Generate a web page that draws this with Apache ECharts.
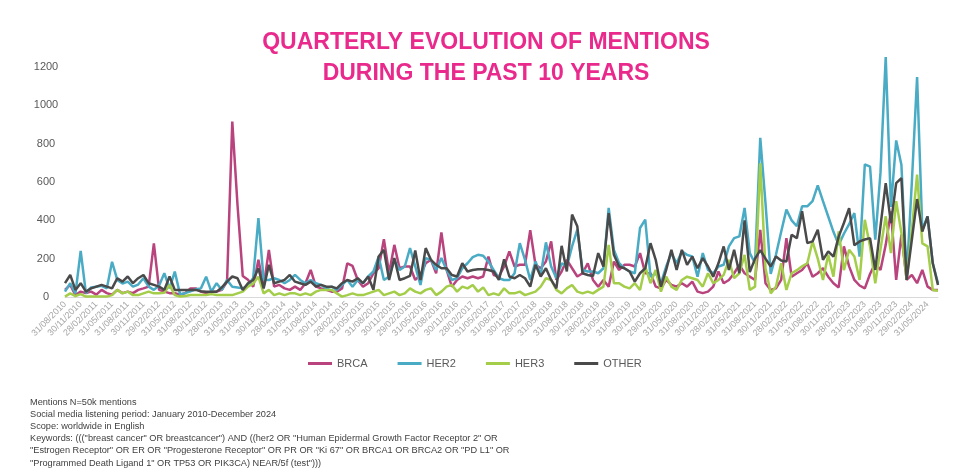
<!DOCTYPE html>
<html>
<head>
<meta charset="utf-8">
<script src="https://cdn.jsdelivr.net/npm/echarts@6/dist/echarts.min.js"></script>
<style>
html,body{margin:0;padding:0;background:#fff;}
#chart{width:960px;height:474px;}
</style>
</head>
<body>
<div id="chart"></div>
<script>
// Month-end categories: Aug 2010 .. Jul 2024 (168 months)
const startYear = 2010, startMonth = 8, monthCount = 168;
const categories = [];
for (let k = 0; k < monthCount; k++) {
  const m0 = startMonth - 1 + k;
  const y = startYear + Math.floor(m0 / 12);
  const m = (m0 % 12) + 1;
  const d = new Date(Date.UTC(y, m, 0)).getUTCDate();
  categories.push(String(d).padStart(2,'0') + '/' + String(m).padStart(2,'0') + '/' + y);
}

const seriesNames = ['BRCA', 'HER2', 'HER3', 'OTHER'];

const brca = [37,63,10,28,20,28,12,37,20,12,37,20,28,20,37,45,54,280,37,28,20,20,12,20,45,45,28,20,28,28,
37,80,915,480,110,90,54,194,54,245,54,63,45,37,54,37,72,141,54,45,37,28,28,45,176,162,89,54,72,124,
150,302,124,272,150,159,159,89,115,176,194,124,337,141,54,89,107,98,107,98,107,211,115,107,159,238,159,168,168,348,
168,150,185,290,89,133,194,150,107,124,176,89,54,89,54,185,141,168,168,159,229,124,124,54,45,89,63,54,72,54,
80,28,20,28,54,133,72,89,124,168,124,106,89,350,72,37,45,89,307,106,124,141,176,106,124,150,106,72,50,264,
160,89,60,45,120,176,141,272,447,89,325,89,115,72,141,54,37,37];

const her2 = [28,72,19,240,20,50,54,58,45,184,89,70,80,54,65,98,54,37,60,124,45,133,15,20,30,40,45,106,28,72,
37,89,54,50,45,60,100,412,90,89,98,89,72,89,115,89,72,89,72,63,45,54,37,63,89,54,89,72,107,133,
211,89,107,194,141,159,255,159,63,203,194,141,203,141,89,98,150,176,208,220,215,185,141,98,89,89,124,281,194,89,
185,115,285,159,98,176,159,264,351,141,133,133,124,150,465,246,176,150,133,124,360,404,106,124,72,159,229,176,238,220,
211,106,229,141,124,159,168,264,307,316,465,229,176,830,490,120,220,340,456,400,369,473,473,500,582,500,420,340,272,330,
380,438,211,692,680,299,650,1252,470,817,690,100,600,1148,350,420,176,72];

const her3 = [2,19,5,15,2,2,2,2,2,10,37,19,28,10,10,19,28,19,19,22,63,10,2,5,10,10,10,10,15,10,
10,10,10,19,28,54,70,106,19,37,10,19,10,19,19,10,19,10,28,37,37,37,19,2,10,19,10,10,19,28,
37,10,19,28,10,19,45,28,19,37,45,10,28,54,63,28,54,45,63,28,50,10,19,10,45,19,19,28,10,19,
28,54,98,89,37,19,45,63,28,19,28,19,37,54,272,72,72,54,45,72,37,159,72,141,28,106,54,37,89,106,
98,89,54,124,72,89,115,194,98,124,220,37,54,698,150,19,54,176,37,124,140,160,176,290,200,89,220,106,342,140,
246,211,89,403,264,72,250,421,229,500,334,89,350,639,280,264,37,33];

const other = [72,115,37,72,28,45,54,63,54,45,98,80,107,72,98,115,72,63,54,37,107,37,37,37,37,37,30,28,28,28,
50,80,107,98,37,72,89,150,45,168,72,80,89,115,80,72,63,80,54,63,54,54,45,72,89,80,98,72,107,37,
211,246,89,203,89,98,110,243,89,255,194,168,150,150,115,107,176,133,141,145,145,141,133,89,197,107,98,115,98,54,
168,107,150,89,45,267,133,430,369,124,115,110,229,159,438,220,159,150,133,80,124,150,281,194,54,141,246,141,246,168,
211,150,203,159,106,176,264,141,246,124,400,130,200,245,200,159,211,190,185,325,307,447,281,290,351,194,238,211,315,386,
464,270,290,300,307,141,370,594,385,594,620,89,300,511,341,420,176,63];

const colors = ['#b8437d', '#4aabc5', '#a4cd4a', '#4a4a4a'];
const yTicks = {min: 0, max: 1200, interval: 200};

const titleLines = ['QUARTERLY EVOLUTION OF MENTIONS', 'DURING THE PAST 10 YEARS'];
const notes = [
  'Mentions N=50k mentions',
  'Social media listening period: January 2010-December 2024',
  'Scope: worldwide in English',
  'Keywords: ((("breast cancer" OR breastcancer") AND ((her2 OR "Human Epidermal Growth Factor Receptor 2" OR',
  '"Estrogen Receptor" OR ER OR "Progesterone Receptor" OR PR OR "Ki 67" OR BRCA1 OR BRCA2 OR "PD L1" OR',
  '"Programmed Death Ligand 1" OR TP53 OR PIK3CA) NEAR/5f (test")))'
];

const allData = [brca, her2, her3, other];

const chart = echarts.init(document.getElementById('chart'), null, {renderer: 'canvas'});

const graphics = [];
titleLines.forEach((t, i) => {
  graphics.push({
    type: 'text', x: 486, y: 43 + i * 31,
    style: {text: t, fill: '#e92a8c', font: 'bold 23px "Liberation Sans", Arial, sans-serif',
            textAlign: 'center', textVerticalAlign: 'middle'}
  });
});
notes.forEach((t, i) => {
  graphics.push({
    type: 'text', x: 30, y: 402 + i * 12.2,
    style: {text: t, fill: '#404040', font: '9.2px "Liberation Sans", Arial, sans-serif',
            textAlign: 'left', textVerticalAlign: 'middle'}
  });
});

chart.setOption({
  animation: false,
  color: colors,
  grid: {left: 65, right: 22, top: 67, bottom: 177, containLabel: false},
  legend: {
    data: seriesNames,
    left: 303, top: 353,
    icon: 'rect', itemWidth: 24, itemHeight: 3, itemGap: 30,
    textStyle: {color: '#595959', fontSize: 11, fontFamily: '"Liberation Sans", Arial, sans-serif'}
  },
  xAxis: {
    type: 'category', data: categories, boundaryGap: false,
    axisLine: {lineStyle: {color: '#d9d9d9', width: 1}},
    axisTick: {show: false},
    axisLabel: {interval: 2, rotate: 45, color: '#a6a6a6', fontSize: 9, margin: 6,
                fontFamily: '"Liberation Sans", Arial, sans-serif'}
  },
  yAxis: {
    type: 'value', min: yTicks.min, max: yTicks.max, interval: yTicks.interval,
    axisLine: {show: false}, axisTick: {show: false},
    splitLine: {show: false},
    axisLabel: {color: '#595959', fontSize: 11, align: 'center', margin: 19,
                formatter: v => String(v),
                fontFamily: '"Liberation Sans", Arial, sans-serif'}
  },
  graphic: graphics,
  series: seriesNames.map((n, i) => ({
    name: n, type: 'line', data: allData[i], showSymbol: false, symbol: 'none',
    clip: false, lineStyle: {width: 2.5, color: colors[i]}, itemStyle: {color: colors[i]}
  }))
});
</script>
</body>
</html>
